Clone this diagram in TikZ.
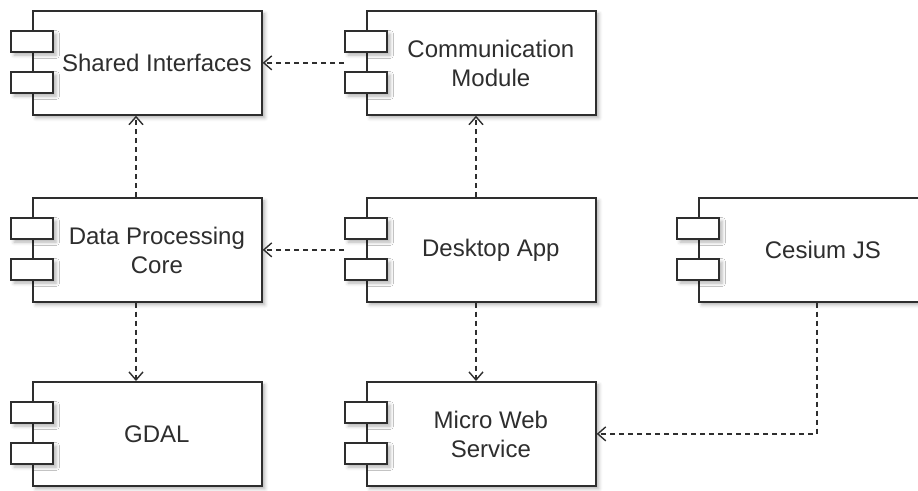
\documentclass[tikz,border=0pt]{standalone}
\usepackage{fontspec}
\setmainfont{Liberation Sans}
\usetikzlibrary{arrows.meta,shadows.blur,calc}
\definecolor{ink}{HTML}{2E2E2E}
\tikzset{
  softshadow/.style={blur shadow={shadow xshift=3pt, shadow yshift=-3pt, shadow blur radius=3.5pt, shadow opacity=30}},
  compbox/.style={draw=ink, line width=1.7pt, fill=white, minimum width=229pt, minimum height=104pt, anchor=north west, inner sep=0pt, softshadow},
  port/.style={draw=ink, line width=1.7pt, fill=white, minimum width=42pt, minimum height=21pt, inner sep=0pt, softshadow},
  lbl/.style={text=ink, font=\fontsize{24}{29}\selectfont, align=center, inner sep=0pt},
  dep/.style={draw=ink, line width=1.5pt, dash pattern=on 5pt off 4pt, -{Straight Barb[length=8pt,width=14pt,line width=1.4pt]}}
}
\begin{document}
\begin{tikzpicture}[x=1pt,y=-1pt]
\useasboundingbox (0,0) rectangle (918,490);
% main rectangles
\node[compbox] (shared) at (32,10) {};
\node[compbox] (comm) at (366,10) {};
\node[compbox] (dpc) at (32,197) {};
\node[compbox] (desk) at (366,197) {};
\node[compbox] (ces) at (698,197) {};
\node[compbox] (gdal) at (32,381) {};
\node[compbox] (mws) at (366,381) {};
% ports
\foreach \n in {shared,comm,dpc,desk,ces,gdal,mws}{
  \node[port] (\n-p1) at ($(\n.north west)+(0,31.5)$) {};
  \node[port] (\n-p2) at ($(\n.north west)+(0,72.5)$) {};
}
% labels
\node[lbl] (shared-t) at ($(shared.center)+(9.5,0)$) {Shared Interfaces};
\node[lbl] (comm-t) at ($(comm.center)+(9.5,1)$) {Communication\\Module};
\node[lbl] (dpc-t) at ($(dpc.center)+(9.5,1)$) {Data Processing\\Core};
\node[lbl] (desk-t) at ($(desk.center)+(9.5,0)$) {Desktop App};
\node[lbl] (ces-t) at ($(ces.center)+(9.5,0)$) {Cesium JS};
\node[lbl] (gdal-t) at ($(gdal.center)+(9.5,0)$) {GDAL};
\node[lbl] (mws-t) at ($(mws.center)+(9.5,1)$) {Micro Web\\Service};
% connector columns
\coordinate (c1) at (136,0);
\coordinate (c2) at (476,0);
\coordinate (c3) at (817,0);
% connectors
\draw[dep] (comm-p1.west |- comm.west) -- (shared.east);
\draw[dep] (desk-p1.west |- desk.west) -- (dpc.east);
\draw[dep] (c1 |- dpc.north) -- (c1 |- shared.south);
\draw[dep] (c2 |- desk.north) -- (c2 |- comm.south);
\draw[dep] (c1 |- dpc.south) -- (c1 |- gdal.north);
\draw[dep] (c2 |- desk.south) -- (c2 |- mws.north);
\draw[dep] (c3 |- ces.south) |- (mws.east);
\end{tikzpicture}
\end{document}
